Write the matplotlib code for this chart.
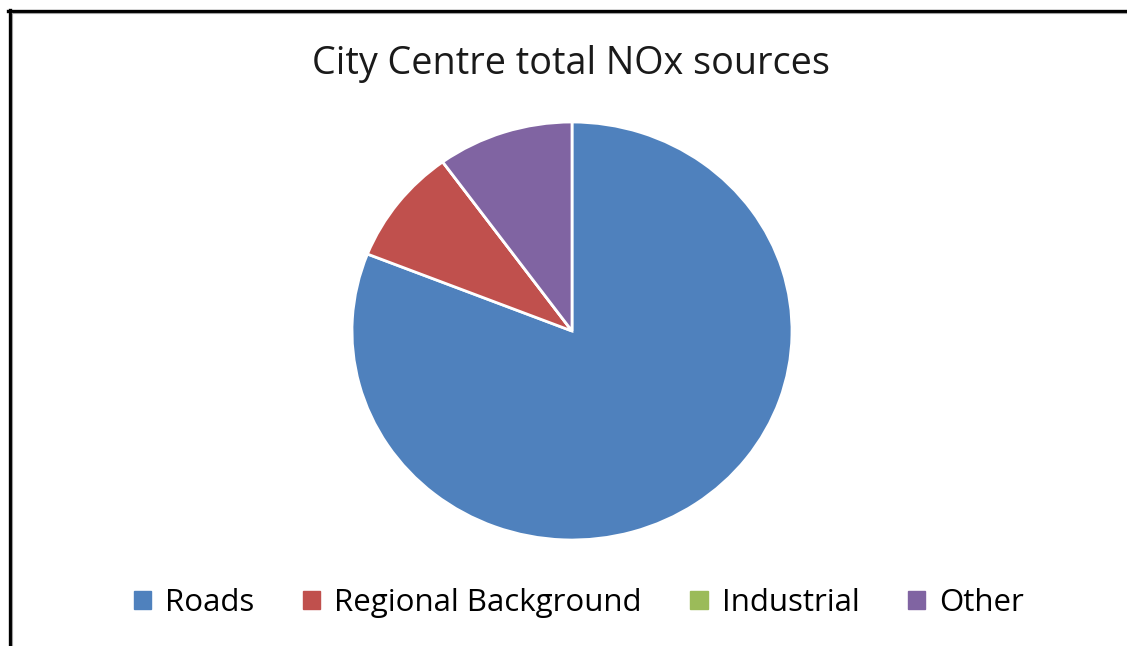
import matplotlib
matplotlib.use("Agg")
import matplotlib.pyplot as plt
from matplotlib.patches import Patch
from matplotlib.lines import Line2D

categories = ["Roads", "Regional Background", "Industrial", "Other"]
values = [81, 9, 0, 10]
colors = ["#4F81BD", "#C0504D", "#9BBB59", "#8064A2"]
title = "City Centre total NOx sources"

W, H = 1127, 646
fig = plt.figure(figsize=(W / 100, H / 100), dpi=100)
fig.patch.set_facecolor("white")

# pie axes
ax = fig.add_axes([352 / W, (H - 540) / H, 440 / W, 418 / H])
ax.pie(values, colors=colors, startangle=90, counterclock=False,
       wedgeprops=dict(edgecolor="white", linewidth=2))
ax.set_aspect("auto")
ax.set_xlim(-1.0, 1.0)
ax.set_ylim(-1.0, 1.0)
ax.axis("off")

fig.text(571 / W, 1 - 64 / H, title, ha="center", va="center",
         fontsize=27.2, family="Open Sans", color="#1a1a1a")

handles = [Patch(facecolor=c, edgecolor=c) for c in colors]
leg = fig.legend(handles, categories, loc="center", bbox_to_anchor=(579 / W, 1 - 603 / H),
                 ncol=4, frameon=False, prop=dict(family="Open Sans", size=22.5),
                 handlelength=0.55, handleheight=0.55, handletextpad=0.45, columnspacing=1.55)

# frame lines (left and top)
fig.add_artist(Line2D([9.5 / W, 9.5 / W], [0, 1 - 9.5 / H], transform=fig.transFigure,
                      color="black", linewidth=2.4))
fig.add_artist(Line2D([8.3 / W, 1], [1 - 10.5 / H, 1 - 10.5 / H], transform=fig.transFigure,
                      color="black", linewidth=2.4))
fig.add_artist(Line2D([11.8 / W, 11.8 / W], [0, 1 - 12.5 / H], transform=fig.transFigure,
                      color="#a0a0a0", linewidth=0.8))
fig.add_artist(Line2D([11.8 / W, 1], [1 - 12.8 / H, 1 - 12.8 / H], transform=fig.transFigure,
                      color="#a0a0a0", linewidth=0.8))

fig.savefig("out.png", dpi=100)
